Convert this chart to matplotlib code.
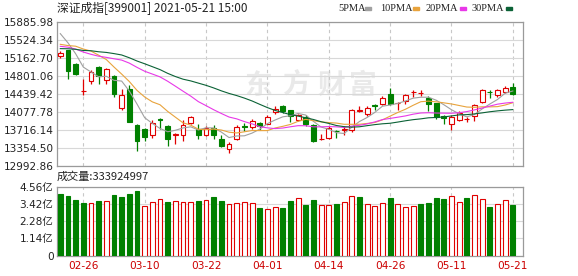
import numpy as np
import pandas as pd
import matplotlib
matplotlib.use("Agg")
import matplotlib.pyplot as plt
from matplotlib.patches import Rectangle

plt.rcParams['font.family'] = ['DejaVu Sans', 'Noto Sans CJK SC']

dates = ["02-23", "02-24", "02-25", "02-26",
         "03-01", "03-02", "03-03", "03-04", "03-05", "03-08", "03-09", "03-10", "03-11", "03-12",
         "03-15", "03-16", "03-17", "03-18", "03-19", "03-22", "03-23", "03-24", "03-25", "03-26",
         "03-29", "03-30", "03-31",
         "04-01", "04-02", "04-06", "04-07", "04-08", "04-09", "04-12", "04-13", "04-14", "04-15",
         "04-16", "04-19", "04-20", "04-21", "04-22", "04-23", "04-26", "04-27", "04-28", "04-29",
         "04-30",
         "05-06", "05-07", "05-10", "05-11", "05-12", "05-13", "05-14", "05-17", "05-18", "05-19",
         "05-20", "05-21"]
tick_dates = ["02-26", "03-10", "03-22", "04-01", "04-14", "04-26", "05-11", "05-21"]

opens = [15213, 15320, 15051, 14498, 14694, 14983, 14714, 14801, 14163, 14532,
         13805, 13724, 13603, 13940, 13799, 13603, 13617, 13851, 13724, 13617,
         13750, 13522, 13334, 13522, 13790, 13771, 13860, 13839, 14074, 14189,
         14108, 13906, 13973, 13819, 13522, 13557, 13698, 13704, 13704, 14100,
         14027, 14209, 14229, 14431, 14249, 14290, 14476, 14457, 14356, 14255,
         13987, 13825, 13920, 13926, 13987, 14276, 14482, 14411, 14478, 14579]
highs = [15306, 15334, 15072, 14734, 14916, 14997, 14962, 14815, 14532, 14613,
         13825, 13750, 13906, 13946, 13805, 13650, 13906, 13993, 13825, 13799,
         13805, 13603, 13468, 13805, 13851, 13940, 13872, 14007, 14189, 14209,
         14122, 14033, 14007, 13839, 13637, 13785, 13718, 13785, 14142, 14189,
         14189, 14243, 14391, 14558, 14276, 14431, 14526, 14526, 14391, 14255,
         14021, 14007, 14088, 13973, 14229, 14546, 14512, 14546, 14593, 14659]
lows = [15173, 14740, 14829, 14411, 14647, 14647, 14647, 14377, 14122, 13872,
        13286, 13488, 13557, 13738, 13387, 13435, 13488, 13839, 13536, 13583,
        13522, 13367, 13254, 13516, 13690, 13738, 13718, 13825, 14041, 14053,
        13872, 13886, 13785, 13468, 13502, 13536, 13557, 13603, 13670, 14068,
        13993, 14108, 14209, 14209, 14122, 14243, 14377, 14391, 14094, 13940,
        13839, 13718, 13892, 13872, 13892, 14255, 14365, 14377, 14457, 14411]
closes = [15274, 14902, 14849, 14502, 14882, 14795, 14950, 14440, 14425, 13872,
          13488, 13569, 13860, 13920, 13536, 13637, 13805, 13973, 13603, 13759,
          13617, 13387, 13421, 13765, 13772, 13892, 13785, 13981, 14128, 14094,
          14000, 14015, 13825, 13488, 13526, 13759, 13684, 13738, 14122, 14105,
          14163, 14199, 14365, 14243, 14264, 14411, 14482, 14462, 14243, 13965,
          13955, 13973, 14053, 13932, 14209, 14512, 14468, 14512, 14567, 14431]
# closes before the window (01-06 .. 02-22), needed for the moving averages
prior_closes = [14980, 15180, 15200, 15050, 15420, 15350, 15150, 15260, 15560, 15450,
                15250, 15620, 15700, 15800, 15560, 15420, 15010, 14950, 15100, 15200,
                15150, 14980, 15070, 15300, 15625, 15831, 15950, 15850, 15380]
volumes = [4.10, 3.97, 3.68, 3.50, 3.48, 3.62, 3.62, 4.03, 3.90, 4.08,
           4.30, 3.31, 3.55, 3.75, 3.55, 3.62, 3.55, 3.55, 3.62, 3.68,
           3.88, 3.62, 3.42, 3.48, 3.55, 3.48, 3.15, 3.09, 3.22, 3.15,
           3.62, 3.79, 3.37, 3.68, 3.37, 3.37, 3.44, 3.55, 3.95, 3.88,
           3.44, 3.29, 3.48, 3.81, 3.42, 3.22, 3.29, 3.42, 3.48, 3.81,
           3.75, 3.95, 3.55, 3.81, 4.01, 3.75, 3.22, 3.42, 3.68, 3.34]  # 亿

price_ticks = [12992.86, 13354.50, 13716.14, 14077.78, 14439.42,
               14801.06, 15162.70, 15524.34, 15885.98]
vol_ticks = [0, 1.14, 2.28, 3.42, 4.56]
vol_labels = ["0", "1.14亿", "2.28亿", "3.42亿", "4.56亿"]

ma_periods = [5, 10, 20, 30]
ma_colors = ["#a0a0a0", "#e8a33c", "#e838e8", "#0b6236"]

RED = "#e00000"
GREEN = "#008000"

n = len(closes)
x = np.arange(n)
o = np.array(opens)
c = np.array(closes)
all_close = pd.Series(prior_closes + closes)

W, H = 578, 276
fig = plt.figure(figsize=(W / 100, H / 100), dpi=100)

def fx(px):
    return px / W

def fy(py):
    return 1 - py / H

ax = fig.add_axes([fx(57), fy(165.5), (522.5 - 57) / W, (165.5 - 22.3) / H])
axv = fig.add_axes([fx(57), fy(255.7), (522.5 - 57) / W, (255.7 - 186.7) / H])

# watermark
for ch, px in zip("东方财富", [258, 296, 331, 363]):
    ax.text(fx(px) * W / (522.5 - 57) - 57 / (522.5 - 57), (165.5 - 86) / (165.5 - 22.3), ch,
            transform=ax.transAxes, fontsize=20, fontweight="bold", color="#e9e9e9",
            family=["Noto Sans CJK SC"], ha="center", va="center", zorder=0)

up = c >= o
cols = np.where(up, RED, GREEN)
ax.vlines(x, lows, highs, colors=cols, lw=0.9, zorder=2)
ax.bar(x, c - o, bottom=o, width=0.64, facecolor=np.where(up, "white", GREEN),
       edgecolor=cols, linewidth=0.8, zorder=3)

for p, col in zip(ma_periods, ma_colors):
    ma = all_close.rolling(p).mean().values[-n:]
    ax.plot(x, ma, color=col, lw=0.8, zorder=4)

# volume colour follows close vs previous close
prev = np.array([prior_closes[-1]] + closes[:-1])
vup = c >= prev
vcols = np.where(vup, RED, GREEN)
axv.bar(x, volumes, width=0.64, facecolor=np.where(vup, "white", GREEN),
        edgecolor=vcols, linewidth=0.8, zorder=3)

tick_idx = [dates.index(d) for d in tick_dates]
for a in (ax, axv):
    a.set_xlim(-0.43, 60.26)
    a.set_xticks(tick_idx)
    a.grid(axis="x", color="#c8c8c8", ls=(0, (3, 3)), lw=0.8)
    a.grid(axis="y", color="#d8d8d8", ls="-", lw=0.8)
    a.set_axisbelow(True)
    for s in a.spines.values():
        s.set_color("#9a9a9a")
        s.set_linewidth(0.9)
    a.tick_params(length=0, labelsize=7.6, labelcolor="#222222", pad=2.5)

ax.set_ylim(price_ticks[0], price_ticks[-1])
ax.set_yticks(price_ticks)
ax.set_yticklabels([f"{v:.2f}" for v in price_ticks])
ax.tick_params(labelbottom=False)

axv.set_ylim(0, 4.56)
axv.set_yticks(vol_ticks)
axv.set_yticklabels(vol_labels)
axv.set_xticklabels(tick_dates)
axv.tick_params(axis="x", labelcolor="#cc0000", pad=4)

fig.text(fx(57), fy(8.5), "深证成指[399001] 2021-05-21 15:00", fontsize=8.5,
         color="#222222", va="center", ha="left", family=["Noto Sans CJK SC"])
fig.text(fx(57), fy(177), "成交量:333924997", fontsize=8,
         color="#222222", va="center", ha="left", family=["Noto Sans CJK SC"])

# legend
legend_pos = [(338, 365), (380, 413), (426, 460), (472, 506)]
for p, col, (tx, mx) in zip(ma_periods, ma_colors, legend_pos):
    fig.text(fx(tx), fy(8.5), f"{p}PMA", fontsize=7.5, color="#222222",
             va="center", ha="left", family=["Liberation Serif"])
    fig.add_artist(Rectangle((fx(mx), fy(10)), 6 / W, 3 / H, color=col,
                             transform=fig.transFigure))

fig.savefig("out.png", dpi=100)
